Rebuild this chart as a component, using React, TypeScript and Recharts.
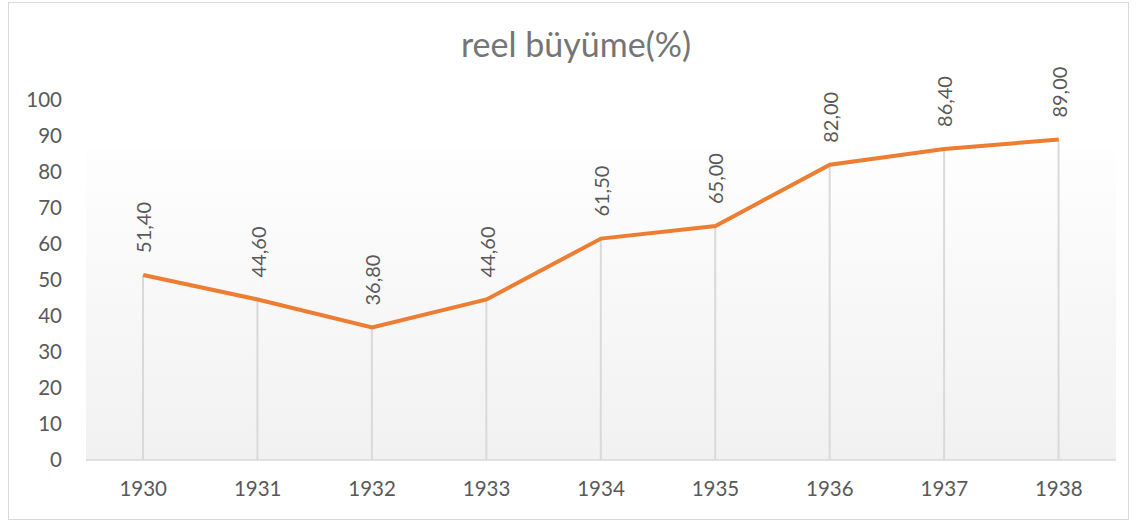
import React from 'react';
import { ComposedChart, Line, Bar, XAxis, YAxis, ReferenceArea, LabelList } from 'recharts';

const years = ['1930', '1931', '1932', '1933', '1934', '1935', '1936', '1937', '1938'];
const growth = [51.4, 44.6, 36.8, 44.6, 61.5, 65.0, 82.0, 86.4, 89.0];
const yTicks = [0, 10, 20, 30, 40, 50, 60, 70, 80, 90, 100];

const data = years.map((year, i) => ({ year, growth: growth[i] }));

const FONT = 'Lato, "Open Sans", sans-serif';

// rotated value label sitting above each point
const RotatedLabel = (props: any) => {
  const { x, y, value } = props;
  const ty = y - 22;
  return (
    <text
      x={x}
      y={ty}
      transform={`rotate(-90, ${x}, ${ty})`}
      textAnchor="start"
      dominantBaseline="central"
      fontSize={20}
      fontFamily={FONT}
      fill="#595959"
    >
      {Number(value).toFixed(2).replace('.', ',')}
    </text>
  );
};

export default function App() {
  return (
    <div style={{ position: 'absolute', left: 0, top: 0, width: 1137, height: 522, background: '#fff' }}>
      <div
        style={{
          position: 'absolute',
          left: 8,
          top: 2,
          width: 1119,
          height: 516,
          border: '1px solid #d9d9d9',
        }}
      />
      <div
        style={{
          position: 'absolute',
          left: 0,
          top: 23,
          width: 1152,
          textAlign: 'center',
          fontFamily: FONT,
          fontSize: 34,
          color: '#757575',
        }}
      >
        reel büyüme(%)
      </div>
      <div style={{ position: 'absolute', left: 0, top: 0 }}>
        <ComposedChart
          width={1137}
          height={522}
          data={data}
          margin={{ top: 100, right: 21, left: 0, bottom: 32 }}
        >
          <defs>
            <linearGradient id="plotFill" x1="0" y1="0" x2="0" y2="1">
              <stop offset="0%" stopColor="#fefefe" />
              <stop offset="100%" stopColor="#f1f1f1" />
            </linearGradient>
          </defs>
          <ReferenceArea y1={0} y2={86.7} fill="url(#plotFill)" fillOpacity={1} stroke="none" ifOverflow="visible" />
          <XAxis
            dataKey="year"
            height={30}
            axisLine={{ stroke: '#d9d9d9', strokeWidth: 1.5 }}
            tickLine={false}
            tickSize={0}
            tickMargin={21}
            tick={{ fontSize: 20.5, fill: '#595959', fontFamily: FONT }}
          />
          <YAxis
            domain={[0, 100]}
            ticks={yTicks}
            interval={0}
            width={86}
            axisLine={false}
            tickLine={false}
            tickSize={0}
            tickMargin={24}
            tick={{ fontSize: 20.5, fill: '#595959', fontFamily: FONT }}
          />
          <Bar dataKey="growth" barSize={2} fill="#d9d9d9" isAnimationActive={false} />
          <Line
            type="linear"
            dataKey="growth"
            stroke="#ed7d31"
            strokeWidth={4}
            dot={false}
            activeDot={false}
            isAnimationActive={false}
          >
            <LabelList dataKey="growth" content={<RotatedLabel />} />
          </Line>
        </ComposedChart>
      </div>
    </div>
  );
}
